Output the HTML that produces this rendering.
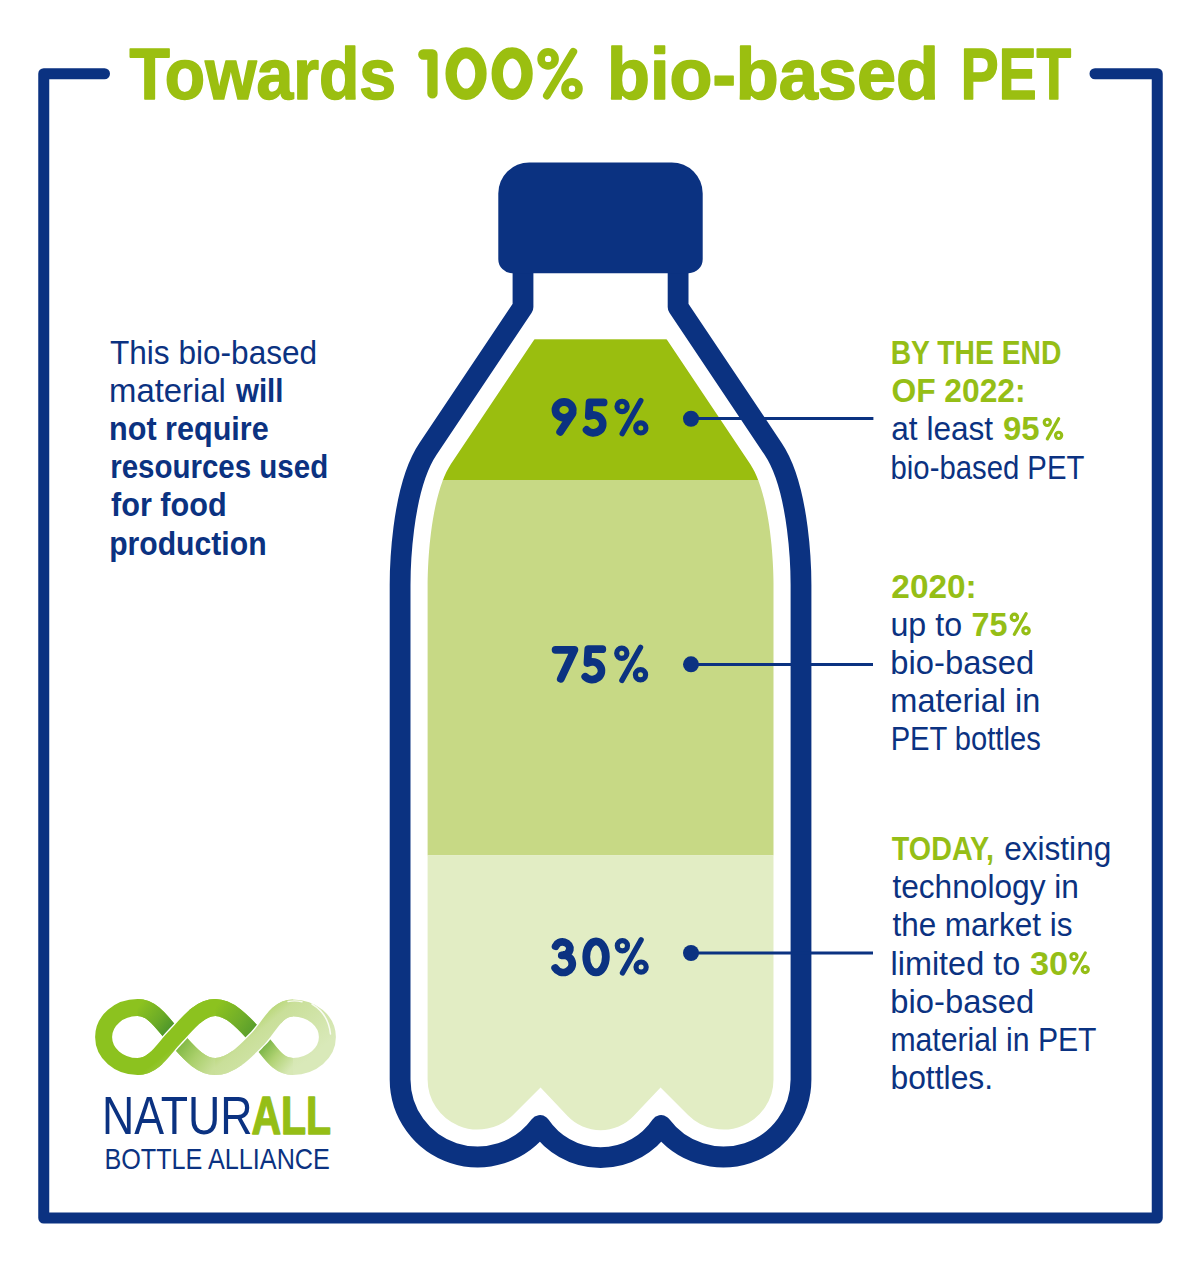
<!DOCTYPE html>
<html>
<head>
<meta charset="utf-8">
<style>
html,body{margin:0;padding:0;background:#fff;}
body{width:1200px;height:1261px;overflow:hidden;}
svg{display:block;}
text{font-family:"Liberation Sans",sans-serif;}
</style>
</head>
<body>
<svg width="1200" height="1261" viewBox="0 0 1200 1261">
<defs>
<clipPath id="inside">
<path d="M545.85,322.30 L450.76,464.30 L448.56,467.88 L446.37,472.06 L444.24,476.77 L442.22,481.95 L440.31,487.53 L438.55,493.43 L436.93,499.60 L435.46,505.95 L434.15,512.43 L432.98,518.97 L431.95,525.52 L431.06,532.01 L430.30,538.39 L429.65,544.59 L429.12,550.57 L428.69,556.26 L428.34,561.61 L428.08,566.56 L427.89,571.07 L427.76,575.07 L427.67,578.51 L427.62,581.35 L427.60,583.52 L427.60,585.00 V1079.4 A50.10,50.10 0 0 0 513.06,1114.89 L540.55,1087.50 L567.53,1115.96 A45.50,45.50 0 0 0 633.57,1115.96 L660.55,1087.50 L688.04,1114.89 A50.10,50.10 0 0 0 773.50,1079.4 L773.50,585.00 L773.50,583.52 L773.48,581.35 L773.43,578.51 L773.34,575.07 L773.21,571.07 L773.02,566.56 L772.76,561.61 L772.41,556.26 L771.98,550.57 L771.45,544.59 L770.80,538.39 L770.04,532.01 L769.15,525.52 L768.12,518.97 L766.95,512.43 L765.64,505.95 L764.17,499.60 L762.55,493.43 L760.79,487.53 L758.88,481.95 L756.86,476.77 L754.73,472.06 L752.54,467.88 L750.34,464.30 L655.25,322.30 Z"/>
</clipPath>
</defs>

<!-- frame -->
<path d="M104.5,73.75 H43.75 V1218 H1157.25 V73.75 H1095" fill="none" stroke="#0B3281" stroke-width="11" stroke-linecap="round" stroke-linejoin="round"/>

<!-- bottle fill -->
<g clip-path="url(#inside)">
<rect x="380" y="339.3" width="440" height="141" fill="#9ABE0F"/>
<rect x="380" y="480" width="440" height="375.4" fill="#C7D985"/>
<rect x="380" y="855.4" width="440" height="330" fill="#E2EDC4"/>
</g>
<path d="M523.0,260 V307.0 L427.91,449.00 C400.65,489.71 400.10,575.00 400.10,585.00 V1079.4 A77.6,77.6 0 0 0 540.05,1125.5 A73.0,73.0 0 0 0 661.05,1125.5 A77.6,77.6 0 0 0 801.0,1079.4 V585.0 C801.00,575.00 800.45,489.71 773.19,449.00 L678.0999999999999,307.0 V260" fill="none" stroke="#0B3281" stroke-width="20.8" stroke-linejoin="round"/>
<!-- cap -->
<path d="M529.3,162.4 H671.7 A31,31 0 0 1 702.7,193.4 V259.2 A14,14 0 0 1 688.7,273.2 H512.3 A14,14 0 0 1 498.3,259.2 V193.4 A31,31 0 0 1 529.3,162.4 Z" fill="#0B3281"/>

<!-- connectors -->
<g stroke="#0B3281" stroke-width="3" fill="#0B3281">
<line x1="691" y1="418.6" x2="873.4" y2="418.6"/>
<line x1="691" y1="664.5" x2="873" y2="664.5"/>
<line x1="691" y1="953" x2="873" y2="953"/>
<circle cx="691" cy="418.75" r="8" stroke="none"/>
<circle cx="691" cy="664.3" r="8" stroke="none"/>
<circle cx="691" cy="953" r="8" stroke="none"/>
</g>

<!-- logo -->
<defs><linearGradient id="lgBase" gradientUnits="userSpaceOnUse" x1="185.00" y1="1037.10" x2="246.48" y2="1110.87"><stop offset="0" stop-color="#8cc21f"/><stop offset="0.45" stop-color="#c9df99"/><stop offset="1" stop-color="#d9e9b9"/></linearGradient><linearGradient id="lgA" gradientUnits="userSpaceOnUse" x1="258.20" y1="1038.40" x2="215.30" y2="1007.60"><stop offset="0" stop-color="#4f972c"/><stop offset="0.45" stop-color="#6eac2a"/><stop offset="1" stop-color="#8cc21f"/></linearGradient><linearGradient id="lgB" gradientUnits="userSpaceOnUse" x1="258.20" y1="1038.40" x2="293.00" y2="1066.40"><stop offset="0" stop-color="#5ea52f"/><stop offset="0.55" stop-color="#b0d273"/><stop offset="1" stop-color="#d7e8b5"/></linearGradient><linearGradient id="lgC" gradientUnits="userSpaceOnUse" x1="174.80" y1="1037.20" x2="215.30" y2="1066.60"><stop offset="0" stop-color="#6fae33"/><stop offset="0.55" stop-color="#a9cf6a"/><stop offset="1" stop-color="#c9df99"/></linearGradient><linearGradient id="lgD" gradientUnits="userSpaceOnUse" x1="174.80" y1="1037.20" x2="137.50" y2="1007.60"><stop offset="0" stop-color="#3b8a2c"/><stop offset="0.5" stop-color="#6cab27"/><stop offset="1" stop-color="#8cc21f"/></linearGradient></defs>
<g fill="none" stroke-width="17.0" stroke-linecap="butt" stroke-linejoin="round">
<path d="M174.80,1037.20 C185.41,1026.59 198.30,1007.60 215.30,1007.60 C232.30,1007.60 247.59,1027.79 258.20,1038.40 C268.81,1049.01 276.00,1066.40 293.00,1066.40 C312.00,1066.40 327.40,1053.28 327.40,1037.10 C327.40,1021.03 312.00,1008.00 293.00,1008.00 C276.00,1008.00 268.81,1027.79 258.20,1038.40 C247.59,1049.01 232.30,1066.60 215.30,1066.60 C198.30,1066.60 185.41,1047.81 174.80,1037.20 C164.19,1026.59 154.50,1007.60 137.50,1007.60 C118.78,1007.60 103.60,1020.81 103.60,1037.10 C103.60,1053.39 118.78,1066.60 137.50,1066.60 C154.50,1066.60 164.19,1047.81 174.80,1037.20 Z" stroke="url(#lgBase)"/>
<path d="M215.30,1007.60 C232.30,1007.60 247.59,1027.79 258.20,1038.40" stroke="url(#lgA)"/>
<path d="M258.20,1038.40 C268.81,1049.01 276.00,1066.40 293.00,1066.40" stroke="url(#lgB)"/>
<path d="M215.30,1066.60 C198.30,1066.60 185.41,1047.81 174.80,1037.20" stroke="url(#lgC)"/>
<path d="M174.80,1037.20 C164.19,1026.59 154.50,1007.60 137.50,1007.60" stroke="url(#lgD)"/>
<path d="M156.76,1057.64 C163.41,1051.34 168.97,1043.03 174.80,1037.20 C180.63,1031.37 187.16,1023.00 194.68,1016.64" stroke="#fff" stroke-width="19.6"/>
<path d="M274.80,1017.38 C268.83,1023.95 264.03,1032.57 258.20,1038.40 C252.37,1044.23 245.12,1052.18 236.94,1058.15" stroke="#fff" stroke-width="19.6"/>
<path d="M137.50,1066.60 C154.50,1066.60 164.19,1047.81 174.80,1037.20 C185.41,1026.59 198.30,1007.60 215.30,1007.60" stroke="url(#lgBase)"/>
<path d="M293.00,1008.00 C276.00,1008.00 268.81,1027.79 258.20,1038.40 C247.59,1049.01 232.30,1066.60 215.30,1066.60" stroke="url(#lgBase)"/>
</g>
<g fill="none" stroke="#fff" stroke-linecap="round" stroke-opacity="0.85">
<path d="M312,1004 C322,1010 329,1020 330.5,1034" stroke-width="1.5"/>
<path d="M288,1001.5 C293,1000.6 298,1000.8 302,1001.8" stroke-width="1.4"/>
</g>

<text id="t1" x="129.40" y="99" font-size="72" font-weight="bold" fill="#9BBF10" textLength="266.57" lengthAdjust="spacingAndGlyphs" stroke="#9BBF10" stroke-width="1.6" stroke-linejoin="round">Towards</text>
<text id="t3" x="607.10" y="99" font-size="72" font-weight="bold" fill="#9BBF10" textLength="331.84" lengthAdjust="spacingAndGlyphs" stroke="#9BBF10" stroke-width="1.6" stroke-linejoin="round">bio-based</text>
<text id="t4" x="960.85" y="99" font-size="72" font-weight="bold" fill="#9BBF10" textLength="110.17" lengthAdjust="spacingAndGlyphs" stroke="#9BBF10" stroke-width="1.6" stroke-linejoin="round">PET</text>
<text id="l1" x="110.03" y="364" font-size="32.5" font-weight="normal" fill="#0B3281" textLength="207.08" lengthAdjust="spacingAndGlyphs">This bio-based</text>
<text id="l2" x="109.03" y="402.1" font-size="32.5" font-weight="normal" fill="#0B3281" textLength="116.84" lengthAdjust="spacingAndGlyphs">material</text>
<text id="l2b" x="236.00" y="402.1" font-size="32.5" font-weight="bold" fill="#0B3281" textLength="47.47" lengthAdjust="spacingAndGlyphs">will</text>
<text id="l3" x="109.12" y="440.2" font-size="32.5" font-weight="bold" fill="#0B3281" textLength="159.59" lengthAdjust="spacingAndGlyphs">not require</text>
<text id="l4" x="110.21" y="478.3" font-size="32.5" font-weight="bold" fill="#0B3281" textLength="217.98" lengthAdjust="spacingAndGlyphs">resources used</text>
<text id="l5" x="111.00" y="516.4" font-size="32.5" font-weight="bold" fill="#0B3281" textLength="115.66" lengthAdjust="spacingAndGlyphs">for food</text>
<text id="l6" x="109.14" y="554.5" font-size="32.5" font-weight="bold" fill="#0B3281" textLength="157.44" lengthAdjust="spacingAndGlyphs">production</text>
<text id="r1" x="890.70" y="364" font-size="32.5" font-weight="bold" fill="#95BE16" textLength="170.68" lengthAdjust="spacingAndGlyphs">BY THE END</text>
<text id="r2" x="891.43" y="402.2" font-size="32.5" font-weight="bold" fill="#95BE16" textLength="134.21" lengthAdjust="spacingAndGlyphs">OF 2022:</text>
<text id="r3" x="891.32" y="440.4" font-size="32.5" font-weight="normal" fill="#0B3281" textLength="101.82" lengthAdjust="spacingAndGlyphs">at least</text>
<text id="r3b" x="1002.97" y="440.4" font-size="32.5" font-weight="bold" fill="#95BE16" textLength="36.61" lengthAdjust="spacingAndGlyphs">95</text>
<text id="r4" x="890.56" y="478.6" font-size="32.5" font-weight="normal" fill="#0B3281" textLength="193.79" lengthAdjust="spacingAndGlyphs">bio-based PET</text>
<text id="r5" x="891.33" y="597.75" font-size="32.5" font-weight="bold" fill="#95BE16" textLength="85.37" lengthAdjust="spacingAndGlyphs">2020:</text>
<text id="r6" x="890.47" y="635.85" font-size="32.5" font-weight="normal" fill="#0B3281" textLength="71.62" lengthAdjust="spacingAndGlyphs">up to</text>
<text id="r6b" x="971.48" y="635.85" font-size="32.5" font-weight="bold" fill="#95BE16" textLength="35.99" lengthAdjust="spacingAndGlyphs">75</text>
<text id="r7" x="890.37" y="673.95" font-size="32.5" font-weight="normal" fill="#0B3281" textLength="143.80" lengthAdjust="spacingAndGlyphs">bio-based</text>
<text id="r8" x="890.36" y="712.05" font-size="32.5" font-weight="normal" fill="#0B3281" textLength="149.90" lengthAdjust="spacingAndGlyphs">material in</text>
<text id="r9" x="890.67" y="750.15" font-size="32.5" font-weight="normal" fill="#0B3281" textLength="150.04" lengthAdjust="spacingAndGlyphs">PET bottles</text>
<text id="r10" x="891.85" y="860.25" font-size="32.5" font-weight="bold" fill="#95BE16" textLength="102.08" lengthAdjust="spacingAndGlyphs">TODAY,</text>
<text id="r10b" x="1004.21" y="860.25" font-size="32.5" font-weight="normal" fill="#0B3281" textLength="107.05" lengthAdjust="spacingAndGlyphs">existing</text>
<text id="r11" x="892.41" y="898.35" font-size="32.5" font-weight="normal" fill="#0B3281" textLength="186.50" lengthAdjust="spacingAndGlyphs">technology in</text>
<text id="r12" x="892.42" y="936.45" font-size="32.5" font-weight="normal" fill="#0B3281" textLength="180.03" lengthAdjust="spacingAndGlyphs">the market is</text>
<text id="r13" x="890.52" y="974.55" font-size="32.5" font-weight="normal" fill="#0B3281" textLength="129.67" lengthAdjust="spacingAndGlyphs">limited to</text>
<text id="r13b" x="1029.91" y="974.55" font-size="32.5" font-weight="bold" fill="#95BE16" textLength="38.17" lengthAdjust="spacingAndGlyphs">30</text>
<text id="r14" x="890.37" y="1012.65" font-size="32.5" font-weight="normal" fill="#0B3281" textLength="143.80" lengthAdjust="spacingAndGlyphs">bio-based</text>
<text id="r15" x="890.48" y="1050.75" font-size="32.5" font-weight="normal" fill="#0B3281" textLength="206.04" lengthAdjust="spacingAndGlyphs">material in PET</text>
<text id="r16" x="890.45" y="1088.85" font-size="32.5" font-weight="normal" fill="#0B3281" textLength="102.73" lengthAdjust="spacingAndGlyphs">bottles.</text>
<text id="n1" x="101.96" y="1134.0" font-size="53" font-weight="normal" fill="#0B3281" textLength="150.62" lengthAdjust="spacingAndGlyphs">NATUR</text>
<text id="n1b" x="251.43" y="1134.0" font-size="53" font-weight="bold" fill="#95BE16" textLength="79.69" lengthAdjust="spacingAndGlyphs" stroke="#95BE16" stroke-width="1.4" stroke-linejoin="round">ALL</text>
<text id="n2" x="104.42" y="1168.6" font-size="30" font-weight="normal" fill="#0B3281" textLength="225.42" lengthAdjust="spacingAndGlyphs">BOTTLE ALLIANCE</text>
<g transform="translate(0,0.00)" fill="none" stroke="#0B3281"><circle cx="622.1" cy="406.5" r="5.1" stroke-width="5.2"/><circle cx="640.8" cy="427.9" r="5.1" stroke-width="5.2"/><line x1="622.2" y1="433.6" x2="640.8" y2="400.6" stroke-width="5.4" stroke-linecap="round"/></g>
<g transform="translate(-0.3,246.80)" fill="none" stroke="#0B3281"><circle cx="622.1" cy="406.5" r="5.1" stroke-width="5.2"/><circle cx="640.8" cy="427.9" r="5.1" stroke-width="5.2"/><line x1="622.2" y1="433.6" x2="640.8" y2="400.6" stroke-width="5.4" stroke-linecap="round"/></g>
<g transform="translate(0.3,539.20)" fill="none" stroke="#0B3281"><circle cx="622.1" cy="406.5" r="5.1" stroke-width="5.2"/><circle cx="640.8" cy="427.9" r="5.1" stroke-width="5.2"/><line x1="622.2" y1="433.6" x2="640.8" y2="400.6" stroke-width="5.4" stroke-linecap="round"/></g>
<g fill="none" stroke="#0B3281" stroke-width="7.8" stroke-linecap="round" stroke-linejoin="round"><ellipse cx="564.1" cy="409.9" rx="8.6" ry="7.9"/><path d="M572.4,413.5 L560.2,431.8"/><path d="M603.6,402.4 H589.6 L588.8,416.2 A9.3,8.9 0 1 1 586.6,430.0"/><path d="M555.6,649.8 H574.4 L560.8,678.8"/><path transform="translate(-1.3,246.8)" d="M603.6,402.4 H589.6 L588.8,416.2 A9.3,8.9 0 1 1 586.6,430.0"/><path d="M555.6,946.2 A7.4,6.7 0 1 1 561.8,955.3 A9.1,8.6 0 1 1 555.2,968.0"/><ellipse cx="596.05" cy="956.85" rx="9.8" ry="15.5"/></g>
<g fill="none" stroke="#9BBF10" stroke-linecap="round" stroke-linejoin="round"><path d="M423.3,54.5 H432.45 V93.4" stroke-width="10.3"/><ellipse cx="466.05" cy="73.6" rx="14.9" ry="20.7" stroke-width="11.4"/><ellipse cx="512.15" cy="73.6" rx="14.9" ry="20.7" stroke-width="11.4"/></g>
<g fill="none" stroke="#9BBF10"><circle cx="548.1" cy="58.9" r="7.0" stroke-width="7.6"/><circle cx="572.0" cy="88.7" r="7.0" stroke-width="7.6"/><line x1="546.9" y1="95.6" x2="573.3" y2="51.8" stroke-width="7.8" stroke-linecap="round"/></g>
<g transform="translate(669.64,175.61) scale(0.6070381231671553)" fill="none" stroke="#95BE16"><circle cx="622.1" cy="406.5" r="5.1" stroke-width="5.2"/><circle cx="640.8" cy="427.9" r="5.1" stroke-width="5.2"/><line x1="622.2" y1="433.6" x2="640.8" y2="400.6" stroke-width="5.4" stroke-linecap="round"/></g>
<g transform="translate(627.63,364.66) scale(0.6217008797653959)" fill="none" stroke="#95BE16"><circle cx="622.1" cy="406.5" r="5.1" stroke-width="5.2"/><circle cx="640.8" cy="427.9" r="5.1" stroke-width="5.2"/><line x1="622.2" y1="433.6" x2="640.8" y2="400.6" stroke-width="5.4" stroke-linecap="round"/></g>
<g transform="translate(698.14,711.04) scale(0.6041055718475073)" fill="none" stroke="#95BE16"><circle cx="622.1" cy="406.5" r="5.1" stroke-width="5.2"/><circle cx="640.8" cy="427.9" r="5.1" stroke-width="5.2"/><line x1="622.2" y1="433.6" x2="640.8" y2="400.6" stroke-width="5.4" stroke-linecap="round"/></g>

</svg>
</body>
</html>
